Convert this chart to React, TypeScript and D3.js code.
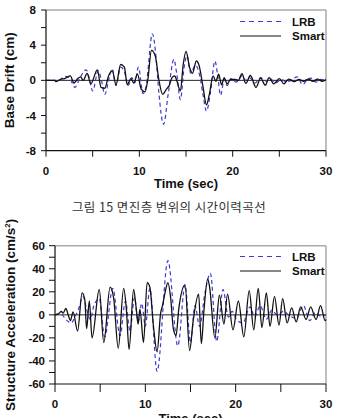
import React from "react";
import * as d3 from "d3";

type Pt = [number, number];

const seriesNames = ["LRB", "Smart"];
const timeTicks = [0, 10, 20, 30];
const timeMinor = [5, 15, 25];
const driftTicks = [8, 4, 0, -4, -8];
const driftMinor = [6, 2, -2, -6];
const accelTicks = [60, 40, 20, 0, -20, -40, -60];
const accelMinor = [50, 30, 10, -10, -30, -50];

// base drift (cm) vs time (sec), peaks and troughs
const driftLRB: Pt[] = [
  [0, 0], [1.0, 0], [1.3, -0.1], [2.0, 0.45], [2.5, 0.3], [3.1, -0.8], [3.6, 0.2],
  [4.3, 1.2], [4.6, 0.4], [5.0, -1.2], [5.6, 1.1], [5.9, 0.2], [6.3, -1.6], [6.8, 0.4],
  [7.1, 1.3], [7.5, -0.6], [8.0, 1.5], [8.4, 1.0], [8.8, -0.6], [9.2, 0.3], [9.5, -0.3],
  [9.9, 1.5], [10.4, -1.5], [10.7, -0.8], [11.4, 5.3], [11.8, 2.5], [12.1, -1.5],
  [12.6, -5.0], [13.1, -1.5], [13.7, 2.4], [14.0, 0.8], [14.4, -2.2], [14.8, 1.5],
  [15.1, 2.8], [15.5, 0.8], [16.0, 1.7], [16.5, 0.4], [16.8, -1.5], [17.2, -3.5],
  [17.6, -1.5], [18.1, 2.2], [18.4, 0.5], [18.7, -1.7], [19.1, 0.1], [19.4, -0.6],
  [19.8, 0.2], [20.4, -0.2], [21.0, 0.5], [21.4, 0.0], [21.8, 0.3], [22.4, -0.3],
  [23.0, 0.3], [23.6, -0.1], [24.0, 0.2], [24.6, -0.3], [25.2, 0.1], [25.8, -0.2],
  [26.4, 0.1], [26.9, 0.4], [27.5, -0.5], [28.0, 0.1], [28.4, 0.25], [28.9, -0.2],
  [29.4, 0.1], [30, 0.0],
];

const driftSmart: Pt[] = [
  [0, 0], [0.9, 0], [1.1, -0.15], [1.6, 0.15], [2.0, 0.2], [2.6, 0.5], [3.0, -0.3],
  [3.4, 0.2], [3.7, 0.4], [4.0, 0], [4.4, 0.8], [4.8, -0.4], [5.5, 1.2], [5.9, -0.8],
  [6.3, -0.9], [6.7, 0.5], [7.1, 1.1], [7.5, -0.5], [8.0, 1.8], [8.4, 1.5], [8.7, -0.5],
  [9.1, 0.2], [9.4, -0.3], [9.8, 0.7], [10.2, -1.0], [10.6, -1.3], [10.9, 0],
  [11.3, 3.4], [11.7, 2.8], [12.1, 0], [12.5, -1.6], [12.9, -1.0], [13.2, -0.6],
  [13.5, 0.3], [13.8, 0.5], [14.0, 0], [14.4, -1.2], [14.7, 1.8], [15.0, 3.3],
  [15.4, 1.4], [15.7, 0.8], [16.1, 2.2], [16.4, 1.7], [16.8, -0.6], [17.2, -2.8],
  [17.5, -1.6], [17.9, 0.5], [18.2, -0.1], [18.5, 0.7], [18.8, -0.5], [19.1, 0.3],
  [19.4, -0.4], [19.8, 0.1], [20.3, 0.1], [20.6, 0], [21.0, 0.75], [21.4, -0.35],
  [21.9, 0.55], [22.5, -0.8], [23.0, 0.25], [23.5, -0.55], [23.9, 0.3], [24.4, -0.4],
  [25.0, 0.2], [25.5, -0.4], [26.0, 0.15], [26.6, -0.15], [27.1, 0.1], [27.6, -0.1],
  [28.1, 0.15], [28.6, -0.1], [29.1, 0.15], [29.6, -0.1], [30, 0.1],
];

// structure acceleration (cm/s^2) vs time (sec)
const accelLRB: Pt[] = [
  [0, 0], [0.5, 1], [0.8, 0], [1.2, -4], [1.8, -7], [2.2, -2], [2.6, 5], [3.1, 16],
  [3.5, 5], [3.9, -4], [4.3, 8], [4.9, 14], [5.5, -19], [6.4, 23], [7.2, -18],
  [7.8, 12], [8.3, -14], [8.8, 15], [9.2, -6], [9.6, 10], [10.0, -10], [10.5, 23],
  [11.3, -49], [12.5, 47], [13.6, -27], [14.4, 26], [15.0, -24], [15.5, 8],
  [16.0, -10], [16.6, 19], [17.2, 36], [17.9, -23], [18.6, 22], [19.2, -2],
  [19.6, 3], [20.1, -4], [20.8, -7], [21.6, 7], [22.1, -2], [22.7, 8], [23.4, -4],
  [24.0, 4], [24.6, 0], [25.3, 3], [26.0, -1], [26.7, -3], [27.5, 8], [28.2, -5],
  [28.8, 2], [29.4, -1], [30, 0],
];

const accelSmart: Pt[] = [
  [0, 0], [0.4, 1], [0.7, 3], [0.9, 1.5], [1.2, 5.5], [1.5, -1], [1.7, -5], [2.0, 2.5],
  [2.5, -14], [3.0, 19], [3.3, 13], [3.5, -12], [3.8, 12], [4.1, -20], [4.9, 22],
  [5.4, -24], [6.1, 24], [6.5, 14], [7.0, -29], [7.6, 23], [7.9, 5], [8.2, -30],
  [8.7, 22], [9.0, 5], [9.2, -8], [9.4, 5], [9.8, -24], [10.2, 28], [10.5, 24],
  [10.9, -10], [11.3, -32], [11.7, 2], [11.9, 8], [12.2, 20], [12.5, 28], [12.8, 15],
  [13.1, -12], [13.4, -18], [13.7, 5], [14.4, 26], [14.9, -31], [15.3, -5],
  [15.9, 18], [16.2, -25], [16.5, 5], [16.9, 31], [17.1, 25], [17.7, -20],
  [18.2, 17], [18.7, -8], [19.1, 18], [19.7, -13], [20.3, 12], [20.9, -19],
  [21.5, 21], [22.0, -13], [22.5, 23], [22.9, -11], [23.4, 19], [23.8, -10],
  [24.3, 16], [24.8, -9], [25.2, 14], [25.7, -7], [26.2, 6], [26.7, -6], [27.2, 7],
  [27.8, -4], [28.3, 7], [28.9, -4], [29.4, 8], [29.9, -5], [30, -4],
];

const FONT = "'Liberation Sans', Arial, sans-serif";
const LRB_COLOR = "#3b3bd4";

type PanelProps = {
  left: number; right: number; top: number; bottom: number;
  yDomain: [number, number];
  yTicks: number[]; yMinor: number[];
  lrb: Pt[]; smart: Pt[];
  yTitle: React.ReactNode; yTitleX: number;
  xLabelY: number; xTitleY: number;
  legendY: number; yTickLen: number; xTickLen: number;
};

function Panel(p: PanelProps) {
  const x = d3.scaleLinear().domain([0, 30]).range([p.left, p.right]);
  const y = d3.scaleLinear().domain(p.yDomain).range([p.bottom, p.top]);
  const line = d3.line<Pt>()
    .x((d) => x(d[0]))
    .y((d) => y(d[1]))
    .curve(d3.curveMonotoneX);
  const midY = (p.top + p.bottom) / 2;
  const legX1 = p.right - 86;
  const legX2 = p.right - 45;
  const legText = p.right - 34;

  return (
    <g fontFamily={FONT} fontWeight="bold">
      {/* frame: light top/right, black axes */}
      <line x1={p.left} x2={p.right} y1={p.top} y2={p.top} stroke="#aaa" strokeWidth={1.5} />
      <line x1={p.right} x2={p.right} y1={p.top} y2={p.bottom} stroke="#aaa" strokeWidth={1.5} />
      <line x1={p.left} x2={p.right} y1={p.bottom} y2={p.bottom} stroke="#111" strokeWidth={1.2} />
      <line x1={p.left} x2={p.left} y1={p.top} y2={p.bottom} stroke="#111" strokeWidth={1.2} />
      <line x1={p.left} x2={p.right} y1={y(0)} y2={y(0)} stroke="#222" strokeWidth={1} />

      {p.yTicks.map((t) => (
        <g key={"y" + t}>
          <line x1={p.left - p.yTickLen} x2={p.left} y1={y(t)} y2={y(t)} stroke="#111" />
          <text x={p.left - 10} y={y(t) + 4} textAnchor="end" fontSize={11.5} fill="#111">{t}</text>
        </g>
      ))}
      {p.yMinor.map((t) => (
        <line key={"ym" + t} x1={p.left - p.yTickLen} x2={p.left} y1={y(t)} y2={y(t)} stroke="#111" />
      ))}
      {[...timeTicks, ...timeMinor].map((t) => (
        <line key={"x" + t} x1={x(t)} x2={x(t)} y1={p.bottom} y2={p.bottom + p.xTickLen} stroke="#111" />
      ))}
      {timeTicks.map((t) => (
        <text key={"xl" + t} x={x(t)} y={p.xLabelY} textAnchor="middle" fontSize={11.5} fill="#111">{t}</text>
      ))}
      <text x={(p.left + p.right) / 2} y={p.xTitleY} textAnchor="middle" fontSize={13} fill="#111">Time (sec)</text>
      <text transform={`translate(${p.yTitleX},${midY}) rotate(-90)`} textAnchor="middle" fontSize={13.5} fill="#111">
        {p.yTitle}
      </text>

      <path d={line(p.lrb) ?? ""} fill="none" stroke={LRB_COLOR} strokeWidth={1.2} strokeDasharray="4,3" />
      <path d={line(p.smart) ?? ""} fill="none" stroke="#111" strokeWidth={1.3} />

      {/* legend */}
      <line x1={legX1} x2={legX2} y1={p.legendY} y2={p.legendY} stroke={LRB_COLOR} strokeWidth={1.2} strokeDasharray="5,4" />
      <text x={legText} y={p.legendY + 4} fontSize={11.5} fill="#111">{seriesNames[0]}</text>
      <line x1={legX1} x2={legX2} y1={p.legendY + 14.5} y2={p.legendY + 14.5} stroke="#111" strokeWidth={1.2} />
      <text x={legText} y={p.legendY + 18.5} fontSize={11.5} fill="#111">{seriesNames[1]}</text>
    </g>
  );
}

export default function App() {
  return (
    <svg width={340} height={418} style={{ position: "absolute", left: 0, top: 0, background: "#fff" }}>
      <rect width={340} height={418} fill="#fff" />
      <Panel
        left={46} right={326} top={10} bottom={150.7}
        yDomain={[-8, 8]} yTicks={driftTicks} yMinor={driftMinor}
        lrb={driftLRB} smart={driftSmart}
        yTitle="Base Drift (cm)" yTitleX={14}
        xLabelY={175} xTitleY={188}
        legendY={21.5} yTickLen={5} xTickLen={6}
      />
      <text x={169} y={212} textAnchor="middle" fontSize={12.5} letterSpacing={0.4}
        fontFamily="'Noto Sans CJK KR', sans-serif" fill="#333">
        그림 15 면진층 변위의 시간이력곡선
      </text>
      <Panel
        left={55} right={326} top={245.7} bottom={384}
        yDomain={[-60, 60]} yTicks={accelTicks} yMinor={accelMinor}
        lrb={accelLRB} smart={accelSmart}
        yTitle={<>Structure Acceleration (cm/s<tspan dy={-5} fontSize={8}>2</tspan><tspan dy={5}>)</tspan></>}
        yTitleX={15}
        xLabelY={408} xTitleY={423}
        legendY={256.5} yTickLen={6} xTickLen={8}
      />
    </svg>
  );
}
